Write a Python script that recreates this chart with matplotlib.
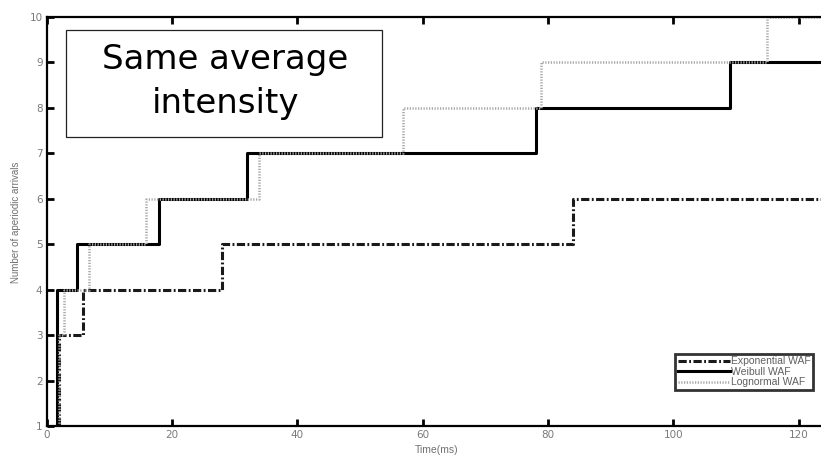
"""Aperiodic arrivals over time for three WAF models (step curves)."""
import matplotlib
matplotlib.use("Agg")
import matplotlib.pyplot as plt
from matplotlib.patches import Rectangle

# step times (ms) and arrival counts; first point is where each curve leaves the axis
exp_t = [1.9, 1.9, 5.8, 27.9, 83.9, 124.0]
exp_n = [1, 3, 4, 5, 6, 6]
weib_t = [1.6, 1.6, 4.9, 17.9, 31.9, 78.0, 109.0, 124.0]
weib_n = [1, 4, 5, 6, 7, 8, 9, 9]
logn_t = [1.9, 1.9, 2.7, 6.8, 15.8, 33.8, 56.9, 78.8, 115.0, 124.0]
logn_n = [1, 3, 4, 5, 6, 7, 8, 9, 10, 10]

x_ticks = [0, 20, 40, 60, 80, 100, 120]
y_ticks = [1, 2, 3, 4, 5, 6, 7, 8, 9, 10]

W, H = 821, 457
fig = plt.figure(figsize=(W / 100, H / 100), dpi=100)
ax = fig.add_axes([46.7 / W, 1 - 426 / H, 1 - 46.7 / W, (426 - 16.7) / H])

ax.plot(exp_t, exp_n, drawstyle="steps-post", color="#1a1a1a", lw=2.2,
        linestyle=(0, (2.7, 0.8, 0.6, 0.8)), label="Exponential WAF")
ax.plot(weib_t, weib_n, drawstyle="steps-post", color="black", lw=2.2,
        label="Weibull WAF")
ax.plot(logn_t, logn_n, drawstyle="steps-post", color="#a8a8a8", lw=1.8,
        linestyle=(0, (0.5, 0.6)), label="Lognormal WAF")

ax.set_xlim(0, (W - 46.7) / 6.267)
ax.set_ylim(1, 10)
ax.set_xticks(x_ticks)
ax.set_yticks(y_ticks)
ax.tick_params(direction="in", length=5, width=2, color="black",
               labelsize=7.5, labelcolor="#7a7a7a", top=True, pad=3)
for side in ["left", "bottom", "top"]:
    ax.spines[side].set_linewidth(1.6)
ax.spines["right"].set_visible(False)

fig.text(437 / W, 1 - 450 / H, "Time(ms)", ha="center", va="center",
         fontsize=7.5, color="#707070", family="Liberation Sans")
fig.text(16 / W, 1 - 222 / H, "Number of aperiodic arrivals", ha="center",
         va="center", rotation=90, fontsize=7, color="#707070",
         family="Liberation Sans")

leg = ax.legend(loc="lower right", bbox_to_anchor=(813 / W, 1 - 390 / H),
                bbox_transform=fig.transFigure, frameon=True,
                fancybox=False, handlelength=5.0, handletextpad=0.1,
                borderpad=0.25, labelspacing=0.05, borderaxespad=0,
                prop={"family": "Liberation Sans", "size": 7.5})
leg.get_frame().set_edgecolor("black")
leg.get_frame().set_linewidth(2.0)
for t in leg.get_texts():
    t.set_color("#606060")

# annotation box in the upper-left
fig.add_artist(Rectangle((66 / W, 1 - 137 / H), (382 - 66) / W, (137 - 30.5) / H,
                         transform=fig.transFigure, facecolor="white",
                         edgecolor="#222222", lw=0.9))
fig.text(225 / W, 1 - 59 / H, "Same average", ha="center", va="center",
         fontsize=24.5, color="black")
fig.text(225 / W, 1 - 104 / H, "intensity", ha="center", va="center",
         fontsize=24.5, color="black")

fig.savefig("out.png", dpi=100)
